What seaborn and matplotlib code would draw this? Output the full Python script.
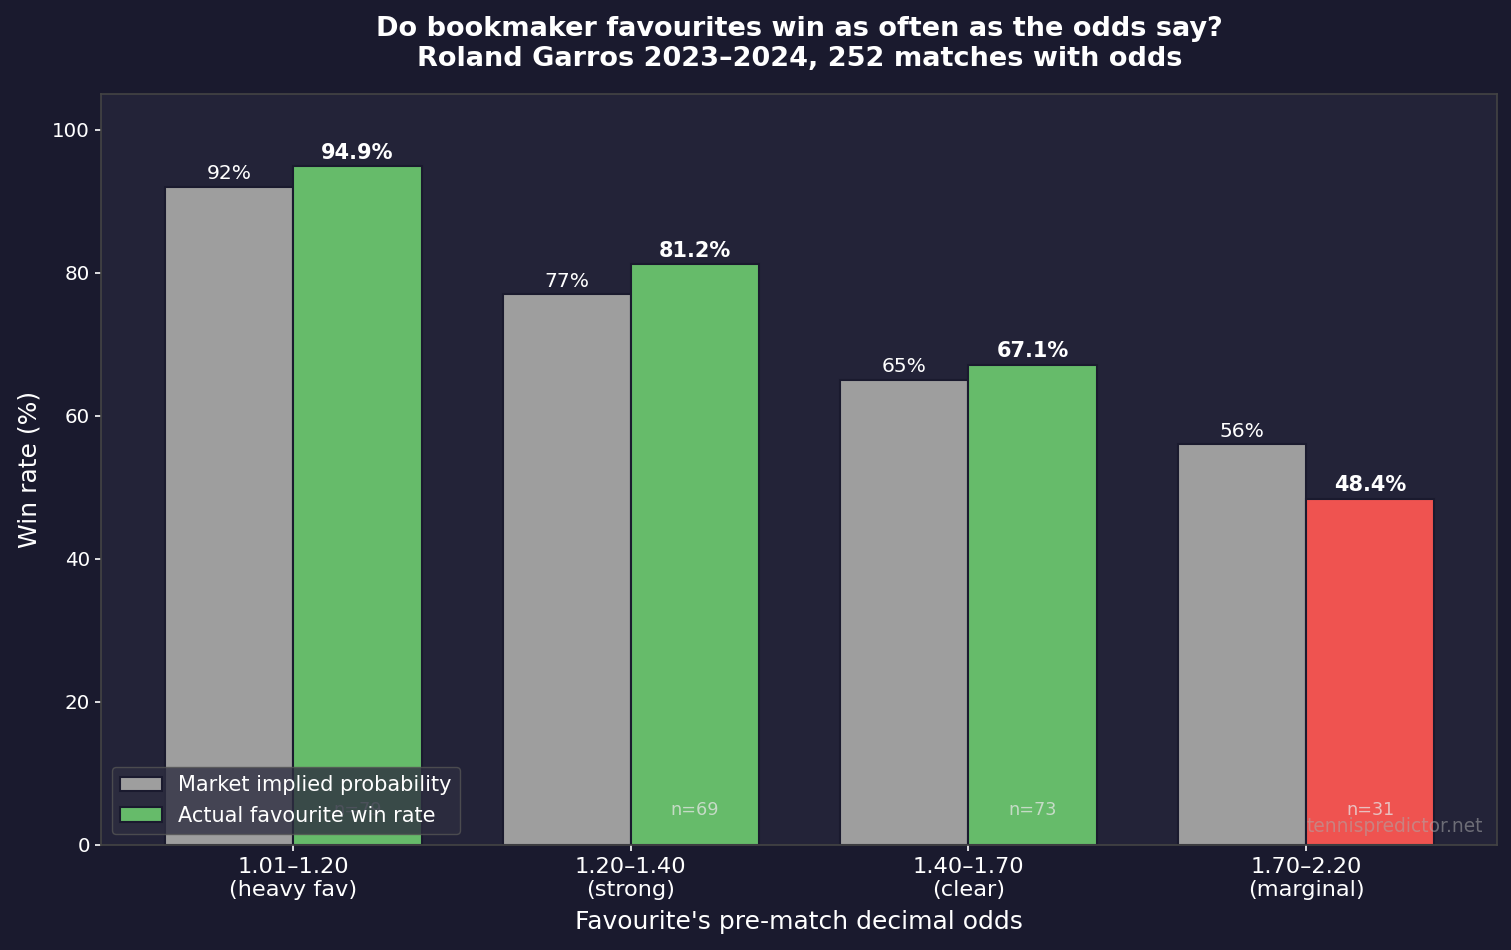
import matplotlib
matplotlib.use("Agg")
import matplotlib.pyplot as plt
import seaborn as sns
import pandas as pd

categories = ["1.01–1.20\n(heavy fav)", "1.20–1.40\n(strong)", "1.40–1.70\n(clear)", "1.70–2.20\n(marginal)"]
implied = [92, 77, 65, 56]
actual = [94.9, 81.2, 67.1, 48.4]
counts = [79, 69, 73, 31]
series = ["Market implied probability", "Actual favourite win rate"]

BG = "#1a1a2e"
AX_BG = "#232338"
GRAY = "#9e9e9e"
GREEN = "#66bb6a"
RED = "#ef5350"

df = pd.DataFrame({
    "cat": categories * 2,
    "series": [series[0]] * 4 + [series[1]] * 4,
    "value": implied + actual,
})

sns.set_theme(style="dark")
plt.rcParams["font.family"] = ["DejaVu Sans"]

fig, ax = plt.subplots(figsize=(15.11, 9.5), dpi=100)
fig.patch.set_facecolor(BG)
ax.set_facecolor(AX_BG)

sns.barplot(data=df, x="cat", y="value", hue="series", hue_order=series,
            palette=[GRAY, GREEN], width=0.76, edgecolor=BG, linewidth=1.5,
            saturation=1, ax=ax, errorbar=None)

bars_imp = ax.patches[:4]
bars_act = ax.patches[4:8]
for b, v in zip(bars_act, actual):
    if v < 50:
        b.set_facecolor(RED)

for b, v in zip(bars_imp, implied):
    ax.text(b.get_x() + b.get_width() / 2, v + 0.5, f"{v:.0f}%", ha="center", va="bottom",
            color="white", fontsize=14.6)
for b, v, n in zip(bars_act, actual, counts):
    cx = b.get_x() + b.get_width() / 2
    ax.text(cx, v + 0.5, f"{v:.1f}%", ha="center", va="bottom",
            color="white", fontsize=15, fontweight="bold")
    ax.text(cx, 4.9, f"n={n}", ha="center", va="center", color="#e6e6e6", alpha=0.75, fontsize=12.7)

ax.text(0.99, 0.012, "tennispredictor.net", transform=ax.transAxes, ha="right", va="bottom",
        color="#aaaaaa", alpha=0.55, fontsize=13.4)

ax.set_xlim(-0.569, 3.567)
ax.set_ylim(0, 105)
ax.set_yticks([0, 20, 40, 60, 80, 100])
ax.set_xlabel("Favourite's pre-match decimal odds", color="white", fontsize=18, labelpad=7)
ax.set_ylabel("Win rate (%)", color="white", fontsize=18, labelpad=8)
ax.set_title("Do bookmaker favourites win as often as the odds say?\nRoland Garros 2023–2024, 252 matches with odds",
             color="white", fontsize=19.5, fontweight="bold", pad=20)
ax.tick_params(colors="white", left=True, bottom=True, length=4.5, width=1.2)
ax.tick_params(axis="y", labelsize=14.3)
ax.tick_params(axis="x", labelsize=16.2, pad=4.5)
for s in ax.spines.values():
    s.set_visible(True)
    s.set_color("#444444")
    s.set_linewidth(1.2)
ax.grid(False)

leg = ax.legend(loc="lower left", fontsize=15, facecolor="#2e2e40", edgecolor="#555555",
                framealpha=0.8, title=None)
for t in leg.get_texts():
    t.set_color("white")

fig.subplots_adjust(left=0.067, right=0.991, top=0.901, bottom=0.111)
fig.savefig("out.png", dpi=100, facecolor=BG)
